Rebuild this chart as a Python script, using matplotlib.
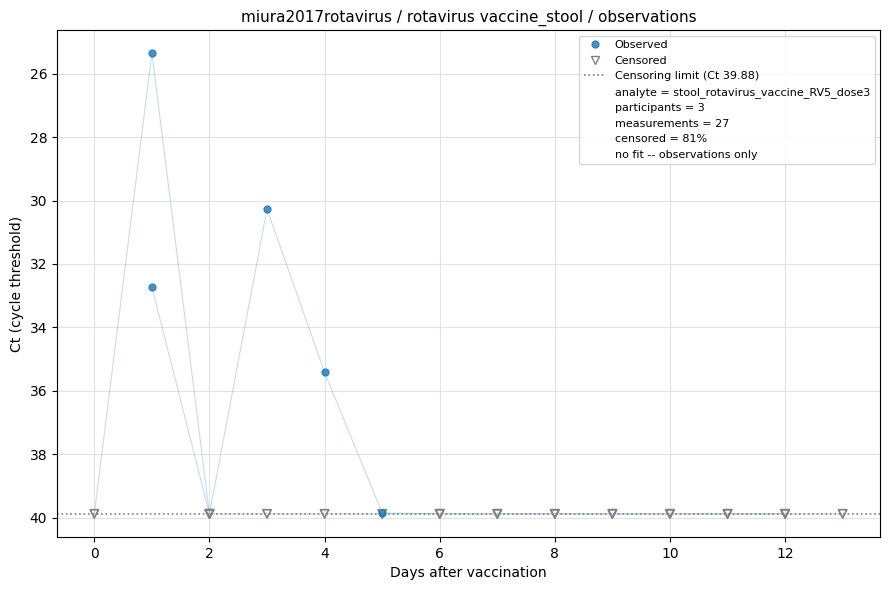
import matplotlib
matplotlib.use("Agg")
import matplotlib.pyplot as plt
import numpy as np
from matplotlib.lines import Line2D

LOD = 39.88

# per participant: days, Ct values, censored flag
p1_days = [0, 1, 2, 3, 4, 5, 6, 7, 8, 9, 10, 11, 12, 13]
p1_ct = [39.88, 25.35, 39.88, 39.88, 39.88, 39.88, 39.88, 39.88, 39.88, 39.88, 39.88, 39.88, 39.88, 39.88]
p1_cens = [1, 0, 1, 1, 1, 1, 1, 1, 1, 1, 1, 1, 1, 1]

p2_days = [1, 2]
p2_ct = [32.73, 39.88]
p2_cens = [0, 1]

p3_days = [2, 3, 4, 5, 6, 7, 8, 9, 10, 11, 12]
p3_ct = [39.88, 30.27, 35.42, 39.85, 39.88, 39.88, 39.88, 39.88, 39.88, 39.88, 39.88]
p3_cens = [1, 0, 0, 0, 1, 1, 1, 1, 1, 1, 1]

participants = [(p1_days, p1_ct, p1_cens), (p2_days, p2_ct, p2_cens), (p3_days, p3_ct, p3_cens)]

fig, ax = plt.subplots(figsize=(8.89, 5.9), dpi=100)

for d, c, cen in participants:
    ax.plot(d, c, color='tab:blue', alpha=0.25, lw=0.8, zorder=1)

all_d = np.concatenate([p[0] for p in participants])
all_c = np.concatenate([p[1] for p in participants])
all_cen = np.concatenate([p[2] for p in participants]).astype(bool)

ax.scatter(all_d[all_cen], all_c[all_cen], marker='v', facecolors='none',
           edgecolors='gray', s=36, linewidths=1.2, zorder=2)
ax.scatter(all_d[~all_cen], all_c[~all_cen], color='tab:blue', alpha=0.8,
           s=25, zorder=3)
ax.axhline(LOD, color='gray', ls=':', lw=1.2, zorder=1.5)

ax.invert_yaxis()
ax.grid(True, color='#dddddd', lw=0.8, alpha=0.8)
ax.set_axisbelow(True)
ax.set_xlabel('Days after vaccination')
ax.set_ylabel('Ct (cycle threshold)')
ax.set_title('miura2017rotavirus / rotavirus vaccine_stool / observations', fontsize=11)

n_meas = len(all_d)
n_cens = int(all_cen.sum())
handles = [
    Line2D([], [], marker='o', ls='', color='tab:blue', alpha=0.8, markersize=5),
    Line2D([], [], marker='v', ls='', markerfacecolor='none', markeredgecolor='gray', markersize=6),
    Line2D([], [], color='gray', ls=':', lw=1.2),
    Line2D([], [], ls='', marker=''),
    Line2D([], [], ls='', marker=''),
    Line2D([], [], ls='', marker=''),
    Line2D([], [], ls='', marker=''),
    Line2D([], [], ls='', marker=''),
]
labels = [
    'Observed',
    'Censored',
    f'Censoring limit (Ct {LOD:.2f})',
    'analyte = stool_rotavirus_vaccine_RV5_dose3',
    f'participants = {len(participants)}',
    f'measurements = {n_meas}',
    f'censored = {round(100 * n_cens / n_meas)}%',
    'no fit -- observations only',
]
ax.legend(handles, labels, loc='upper right', fontsize=8, handlelength=2)

fig.subplots_adjust(left=0.064, right=0.990, top=0.949, bottom=0.090)
fig.savefig('out.png', dpi=100)
